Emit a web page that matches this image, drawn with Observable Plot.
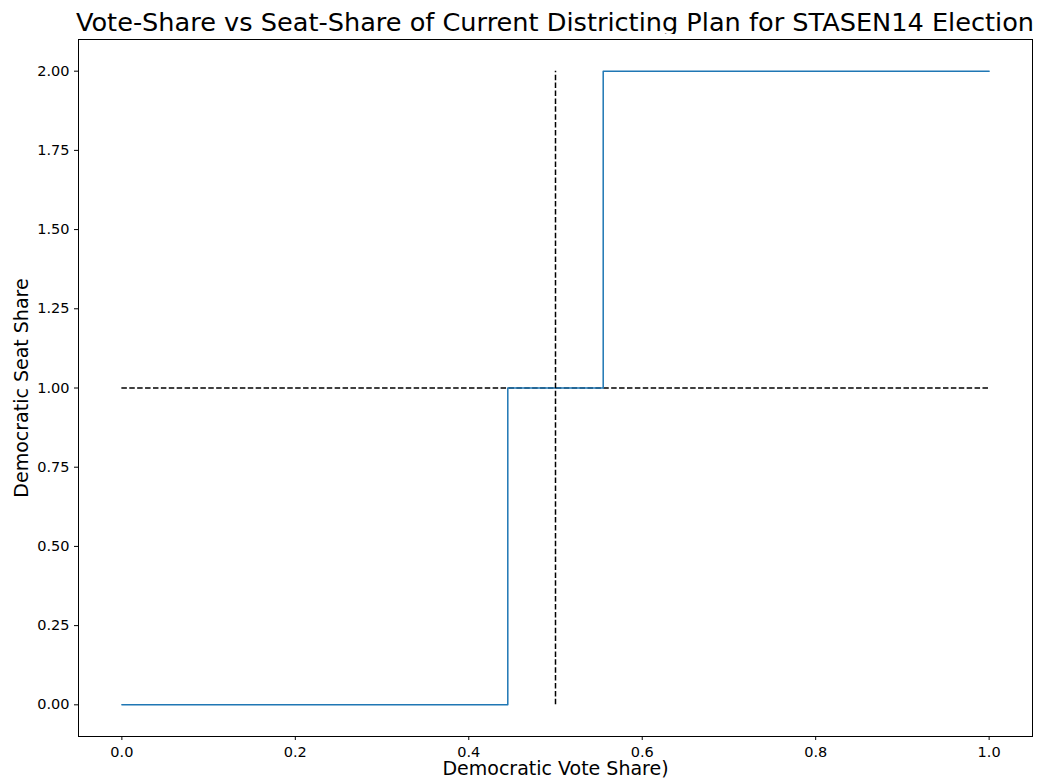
<!DOCTYPE html>
<html>
<head>
<meta charset="utf-8">
<script src="https://cdn.jsdelivr.net/npm/d3@7"></script>
<script src="https://cdn.jsdelivr.net/npm/@observablehq/plot@0.6"></script>
<style>
  body { margin: 0; background: #fff; font-family: "DejaVu Sans", sans-serif; }
  #wrap { position: relative; width: 1038px; height: 780px; }
  #title { position: absolute; left: 60px; width: 990px; top: 5px; height: 34px; line-height: 34px;
           text-align: center; font-size: 25.6px; color: #000; white-space: nowrap; }
  #chart { position: absolute; left: 0; top: 34px; }
</style>
</head>
<body>
<div id="wrap">
  <div id="title">Vote-Share vs Seat-Share of Current Districting Plan for STASEN14 Election</div>
  <div id="chart"></div>
</div>
<script>
// Step curve: Democratic vote share (x) vs seats won (y)
const voteShare = [0, 0.445, 0.555, 1.0];
const seatShare = [0, 1, 2, 2];
// reference lines
const refSeat = 1;      // horizontal dashed line
const refVote = 0.5;    // vertical dashed line
const xTicks = [0, 0.2, 0.4, 0.6, 0.8, 1.0];
const yTicks = [0, 0.25, 0.5, 0.75, 1.0, 1.25, 1.5, 1.75, 2.0];
const xLabel = "Democratic Vote Share)";
const yLabel = "Democratic Seat Share";

const stepData = voteShare.map((v, i) => ({x: v, y: seatShare[i]}));

const chart = Plot.plot({
  width: 1038,
  height: 746,
  marginLeft: 78,
  marginRight: 6,
  marginTop: 5,
  marginBottom: 44,
  style: {fontFamily: "DejaVu Sans, sans-serif", background: "#fff", color: "#000"},
  x: {domain: [-0.05, 1.05], ticks: xTicks, tickFormat: d3.format(".1f")},
  y: {domain: [-0.1, 2.1], ticks: yTicks, tickFormat: d3.format(".2f")},
  marks: [
    Plot.ruleY([refSeat], {x1: 0, x2: 1, stroke: "#000", strokeWidth: 1.5, strokeDasharray: "5.5,2.4"}),
    Plot.line(stepData, {x: "x", y: "y", curve: "step-after", stroke: "#1f77b4", strokeWidth: 1.5}),
    Plot.ruleX([refVote], {y1: 0, y2: 2, stroke: "#000", strokeWidth: 1.5, strokeDasharray: "5.5,2.4"}),
    Plot.frame({stroke: "#000", strokeWidth: 1}),
    Plot.axisX({ticks: xTicks, tickFormat: d3.format(".1f"), tickSize: 4, tickPadding: 6, fontSize: 14.5, label: null}),
    Plot.axisY({ticks: yTicks, tickFormat: d3.format(".2f"), tickSize: 4, tickPadding: 5, fontSize: 14.5, label: null}),
    Plot.text([xLabel], {frameAnchor: "bottom", textAnchor: "middle", dy: 38, fontSize: 19, fill: "#000"}),
    Plot.text([yLabel], {frameAnchor: "left", textAnchor: "middle", dx: -57, rotate: -90, fontSize: 19, fill: "#000"})
  ]
});
document.getElementById("chart").appendChild(chart);
</script>
</body>
</html>
